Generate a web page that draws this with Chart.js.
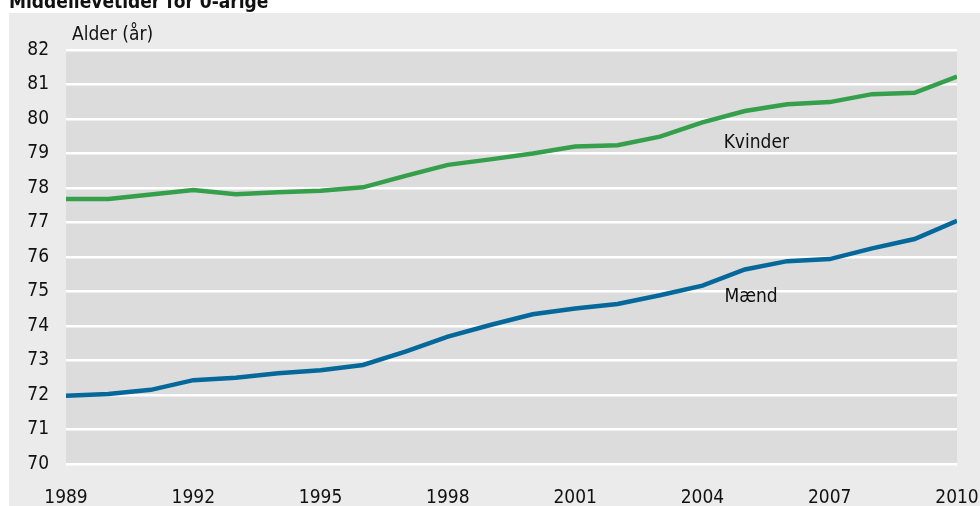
<!DOCTYPE html>
<html>
<head>
<meta charset="utf-8">
<script src="https://cdn.jsdelivr.net/npm/chart.js@4"></script>
<style>
  html, body { margin: 0; padding: 0; background: #ffffff; }
  #wrap { width: 980px; height: 506px; position: relative; }
</style>
</head>
<body>
<div id="wrap"><canvas id="life-chart" width="980" height="506"></canvas></div>
<script>
// Middellevetider for 0-årige, 1989-2010
const years = [1989, 1990, 1991, 1992, 1993, 1994, 1995, 1996, 1997, 1998, 1999,
               2000, 2001, 2002, 2003, 2004, 2005, 2006, 2007, 2008, 2009, 2010];
const kvinder = [77.68, 77.68, 77.81, 77.94, 77.82, 77.88, 77.92, 78.02, 78.35, 78.67, 78.83,
                 79.0, 79.2, 79.24, 79.49, 79.9, 80.23, 80.43, 80.49, 80.72, 80.76, 81.23];
const maend = [71.98, 72.03, 72.15, 72.43, 72.5, 72.63, 72.72, 72.87, 73.26, 73.69, 74.03,
               74.34, 74.51, 74.64, 74.89, 75.17, 75.64, 75.88, 75.94, 76.25, 76.52, 77.05];
const yTicks = [70, 71, 72, 73, 74, 75, 76, 77, 78, 79, 80, 81, 82];
const xTicks = [1989, 1992, 1995, 1998, 2001, 2004, 2007, 2010];

const FONT = '"DejaVu Sans Condensed", "Liberation Sans", sans-serif';
const FSIZE = 19;

const decorations = {
    id: 'decorations',
    beforeDraw(chart) {
        const ctx = chart.ctx;
        const a = chart.chartArea;
        ctx.save();
        // outer panel
        ctx.fillStyle = '#ebebeb';
        ctx.fillRect(9, 13, chart.width - 9, chart.height - 13);
        // plot background
        ctx.fillStyle = '#dcdcdc';
        ctx.fillRect(a.left, a.top, a.right - a.left, a.bottom - a.top);
        ctx.restore();
    },
    afterDraw(chart) {
        const ctx = chart.ctx;
        const x = chart.scales.x, y = chart.scales.y;
        ctx.save();
        ctx.fillStyle = '#111111';
        ctx.textBaseline = 'alphabetic';
        ctx.textAlign = 'left';
        ctx.font = 'bold ' + FSIZE + 'px ' + FONT;
        ctx.fillText('Middellevetider for 0-årige', 9, 8);
        ctx.font = FSIZE + 'px ' + FONT;
        ctx.fillText('Alder (år)', 72, 40);
        ctx.fillText('Kvinder', x.getPixelForValue(2004.5), y.getPixelForValue(79.17));
        ctx.fillText('Mænd', x.getPixelForValue(2004.52), y.getPixelForValue(74.7));
        ctx.restore();
    }
};

const ctx = document.getElementById('life-chart').getContext('2d');
const chart = new Chart(ctx, {
    type: 'line',
    data: {
        datasets: [{
            label: 'Kvinder',
            data: years.map((yr, i) => ({ x: yr, y: kvinder[i] })),
            borderColor: '#359f4b',
            borderWidth: 4.5,
            pointRadius: 0,
            tension: 0
        }, {
            label: 'Mænd',
            data: years.map((yr, i) => ({ x: yr, y: maend[i] })),
            borderColor: '#05689b',
            borderWidth: 4.5,
            pointRadius: 0,
            tension: 0
        }]
    },
    options: {
        responsive: false,
        animation: false,
        events: [],
        layout: { padding: { top: 50, right: 23, left: 0, bottom: 0 } },
        plugins: { legend: { display: false }, tooltip: { enabled: false }, title: { display: false } },
        scales: {
            x: {
                type: 'linear',
                min: 1989,
                max: 2010,
                afterBuildTicks(axis) { axis.ticks = xTicks.map(v => ({ value: v })); },
                afterFit(axis) { axis.height = 42; axis.paddingRight = 0; axis.paddingLeft = 0; },
                grid: { display: false, drawTicks: false },
                border: { display: false },
                ticks: {
                    color: '#111111',
                    font: { family: FONT, size: FSIZE },
                    padding: 23,
                    maxRotation: 0,
                    autoSkip: false,
                    callback: v => String(v)
                }
            },
            y: {
                min: 70,
                max: 82,
                afterBuildTicks(axis) { axis.ticks = yTicks.map(v => ({ value: v })); },
                afterFit(axis) { axis.width = 66; },
                grid: { color: '#ffffff', lineWidth: 2.5, drawTicks: false },
                border: { display: false },
                ticks: {
                    color: '#111111',
                    font: { family: FONT, size: FSIZE },
                    padding: 17
                }
            }
        }
    },
    plugins: [decorations]
});
</script>
</body>
</html>
